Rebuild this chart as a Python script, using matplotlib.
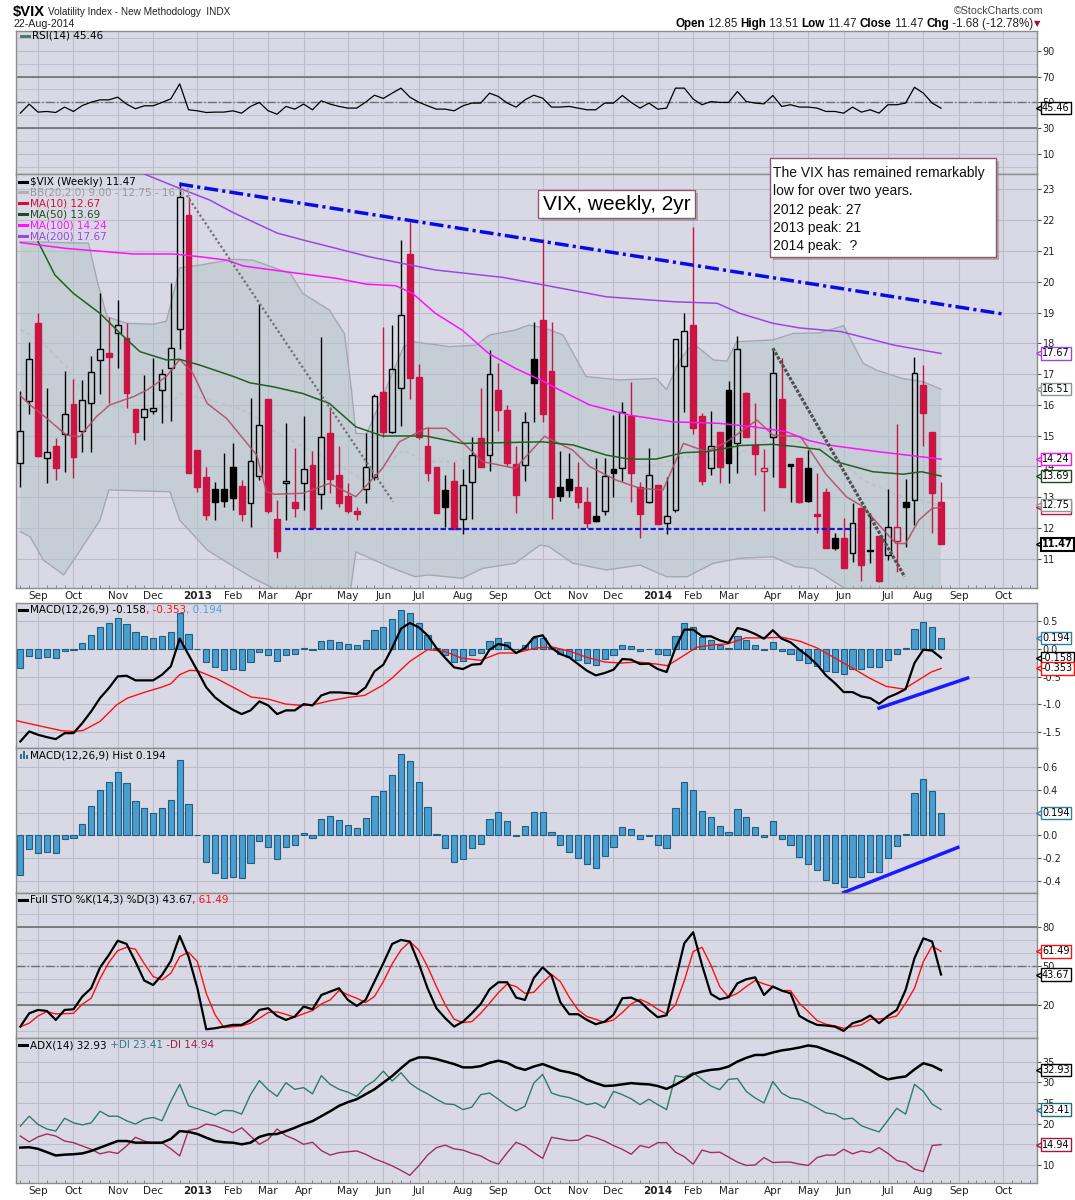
import numpy as np
import pandas as pd
import matplotlib
matplotlib.use("Agg")
import matplotlib.pyplot as plt
import matplotlib.transforms as mtransforms
from matplotlib import font_manager, patheffects
from matplotlib.lines import Line2D
from matplotlib.patches import Rectangle

# weekly $VIX candles, 105 weeks ending 22-Aug-2014
last_week = "2014-08-22"
opens = [14.10, 16.14, 18.65, 14.26, 14.66, 15.04, 16.03, 15.16, 16.05, 17.46,
         17.70, 18.32, 18.16, 15.86, 15.62, 15.80, 16.48, 17.19, 18.45, 22.16,
         14.53, 13.67, 13.27, 13.27, 13.99, 13.37, 12.80, 13.69, 16.18, 12.28,
         13.45, 12.86, 13.45, 14.05, 13.10, 15.08, 13.72, 13.04, 12.55, 13.26,
         13.67, 16.42, 15.13, 16.54, 20.89, 16.89, 14.66, 13.97, 13.24, 13.53,
         12.28, 13.51, 14.93, 14.36, 16.48, 15.85, 14.08, 14.05, 17.48, 18.76,
         17.11, 13.32, 13.61, 13.32, 12.86, 12.39, 12.55, 13.92, 13.94, 15.64,
         13.34, 12.86, 13.40, 12.15, 12.59, 17.27, 18.59, 15.64, 13.94, 15.13,
         16.48, 14.75, 16.40, 14.70, 13.86, 14.95, 16.18, 14.08, 14.29, 13.94,
         12.45, 13.18, 11.69, 11.69, 11.20, 12.64, 11.28, 11.74, 11.13, 11.58,
         12.84, 12.91, 16.63, 15.13, 12.85]
highs = [16.45, 18.03, 18.97, 16.54, 14.91, 17.10, 16.84, 16.81, 17.59, 19.64,
         18.86, 19.40, 18.65, 15.86, 16.97, 17.51, 17.15, 19.95, 23.25, 22.76,
         14.53, 13.99, 13.51, 14.43, 14.77, 13.56, 16.23, 19.28, 16.18, 12.91,
         15.40, 14.59, 15.64, 14.50, 18.21, 15.94, 14.66, 13.47, 12.69, 15.10,
         16.34, 18.54, 18.59, 21.35, 21.95, 17.33, 15.29, 13.97, 13.72, 14.16,
         13.91, 14.97, 16.54, 17.78, 17.35, 15.99, 14.66, 15.78, 18.70, 21.40,
         18.68, 14.51, 14.43, 14.16, 13.34, 14.26, 14.26, 15.67, 16.10, 16.75,
         13.51, 14.59, 13.40, 13.65, 18.13, 19.00, 21.79, 15.75, 15.81, 15.13,
         16.79, 18.24, 16.43, 16.07, 14.56, 17.84, 17.51, 14.08, 14.29, 14.53,
         13.78, 13.29, 11.85, 12.32, 12.80, 12.69, 12.48, 11.74, 13.26, 15.37,
         13.61, 17.56, 17.29, 15.13, 13.51]
lows = [13.34, 15.72, 14.32, 13.47, 13.56, 13.83, 13.64, 14.48, 14.48, 16.37,
        16.05, 17.19, 15.91, 14.73, 14.86, 15.72, 15.40, 15.48, 17.81, 13.78,
        13.18, 12.26, 12.26, 12.69, 12.59, 12.23, 12.05, 13.56, 12.48, 11.02,
        12.26, 12.37, 12.59, 12.01, 12.62, 13.13, 12.69, 12.48, 12.26, 12.82,
        13.56, 14.97, 15.08, 15.32, 16.18, 14.88, 13.54, 12.50, 12.04, 11.96,
        11.81, 12.28, 13.97, 13.86, 15.16, 14.02, 12.50, 13.54, 15.45, 15.45,
        12.29, 12.89, 13.02, 12.64, 11.99, 12.21, 12.42, 13.02, 13.54, 12.86,
        11.67, 12.80, 12.12, 11.80, 12.53, 15.78, 15.05, 13.40, 13.72, 13.47,
        13.47, 13.80, 14.97, 13.72, 12.56, 13.67, 13.34, 12.86, 12.80, 12.86,
        11.85, 11.34, 11.29, 10.69, 10.91, 10.29, 10.86, 10.26, 10.98, 10.58,
        11.37, 12.10, 14.68, 11.85, 11.47]
closes = [15.16, 17.48, 14.34, 14.48, 13.96, 15.72, 14.32, 16.16, 17.06, 17.80,
          17.56, 18.61, 16.40, 15.13, 15.86, 15.89, 16.99, 17.84, 22.74, 13.80,
          13.34, 12.42, 12.86, 12.88, 12.99, 12.45, 14.18, 15.35, 12.57, 11.27,
          13.54, 12.66, 13.91, 12.01, 14.95, 13.58, 12.82, 12.57, 12.45, 13.97,
          16.29, 15.13, 17.15, 18.92, 16.86, 14.95, 13.80, 12.50, 12.69, 11.96,
          13.40, 14.37, 13.97, 16.99, 15.85, 14.12, 13.07, 15.45, 16.72, 15.70,
          13.02, 13.05, 13.24, 12.86, 12.15, 12.24, 13.69, 13.78, 15.76, 13.78,
          12.45, 13.74, 12.12, 12.39, 18.13, 18.41, 15.26, 13.54, 14.66, 13.97,
          14.10, 17.80, 14.97, 14.40, 13.94, 17.02, 13.34, 14.02, 12.86, 12.89,
          12.39, 11.34, 11.36, 10.69, 12.15, 10.80, 11.25, 10.29, 12.04, 12.02,
          12.67, 17.02, 15.75, 13.15, 11.47]

# overlays (week index, value)
ma10_x = [0, 1.1, 3, 5.2, 6.7, 8.6, 10.1, 12.8, 14.3, 16.5, 18, 19.5, 21.1, 23.3, 26.7, 27.8, 28.7,
          31.9, 34.9, 37.9, 40.9, 42.8, 45.8, 48.1, 49.9, 52.2, 55.9, 59.2, 62.4, 64.3, 67.3, 70,
          72.6, 74.9, 77.5, 79.8, 83.2, 85, 88.1, 89.5, 91, 93.3, 95.2, 97, 98.9, 100, 101.5, 103, 104]
ma10_y = [16.3, 16.0, 15.56, 15.02, 14.97, 15.62, 16.0, 16.27, 16.48, 16.92, 17.48, 17.02, 16.05, 15.56,
          14.37, 13.18, 13.1, 13.13, 13.45, 13.02, 13.94, 14.8, 15.24, 15.24, 14.8, 14.16, 13.94, 14.98,
          14.53, 14.0, 13.56, 13.29, 13.24, 14.75, 14.48, 14.8, 15.51, 15.02, 14.97, 14.4, 13.75, 13.02,
          12.69, 12.1, 11.5, 11.5, 12.26, 12.64, 12.67]
ma50_x = [2, 3.9, 6, 9, 11.3, 13.5, 16.5, 18, 20.3, 24.1, 25.9, 28.7, 31.9, 34.9, 37.9, 40.9, 45.8,
          49.9, 53.7, 59, 62.4, 66.2, 68.8, 71.8, 74.9, 77.5, 81.3, 85, 87.5, 90.3, 92.1, 96.3, 99.7,
          101.8, 104]
ma50_y = [21.3, 20.22, 19.62, 18.97, 18.32, 17.73, 17.46, 17.48, 17.29, 16.92, 16.72, 16.58, 16.37,
          16.05, 15.29, 14.99, 14.99, 14.75, 14.77, 14.8, 14.7, 14.37, 14.24, 14.24, 14.45, 14.48, 14.68,
          14.72, 14.65, 14.55, 14.16, 13.83, 13.75, 13.83, 13.69]
ma100_x = [0, 5.2, 12.8, 17.3, 20.3, 23.3, 25.2, 28.5, 35.7, 39.1, 42.4, 44.3, 46.9, 49.9, 52.9, 55.9,
           59.2, 60.2, 64.3, 68.8, 73.7, 79, 82.8, 86.5, 89, 91.2, 96.9, 104]
ma100_y = [21.27, 21.08, 20.9, 20.9, 20.81, 20.7, 20.51, 20.38, 20.11, 19.92, 19.87, 19.62, 18.97,
           18.43, 17.67, 17.19, 16.75, 16.59, 16.0, 15.67, 15.45, 15.4, 15.29, 15.13, 14.85, 14.7,
           14.48, 14.24]
ma200_x = [12, 14.3, 18, 21.4, 24, 29, 32, 39.4, 46.9, 54.5, 59, 66.2, 73.8, 78.7, 81.3, 85, 88, 92.7,
           98.7, 104]
ma200_y = [23.75, 23.46, 23.03, 22.65, 22.25, 21.58, 21.35, 20.81, 20.38, 20.14, 19.9, 19.51, 19.35,
           19.3, 18.97, 18.65, 18.5, 18.38, 17.94, 17.67]
bbu_x = [0, 7.7, 8.7, 9.8, 12, 15, 16.5, 17.3, 18, 20.3, 24.1, 26.3, 28.2, 30.5, 31.9, 34.9, 36.6, 37.4,
         37.9, 39.1, 40.6, 43.3, 44.4, 48.5, 51.5, 53, 55.9, 57.4, 59.2, 61.3, 63.9, 67.7, 71.8, 73,
         74.5, 76, 78.3, 79.8, 80.9, 85, 87.3, 90.3, 93, 95.2, 96.7, 99.6, 102, 104]
bbu_y = [21.3, 21.25, 20.0, 18.86, 18.65, 18.62, 18.72, 19.62, 20.45, 20.54, 20.73, 20.7, 20.5, 20.27,
         19.62, 19.08, 18.32, 16.5, 15.08, 15.05, 16.05, 17.89, 18.05, 17.89, 17.94, 18.27, 18.43, 18.59,
         18.5, 18.27, 16.92, 16.81, 16.86, 16.5, 17.46, 18.0, 17.46, 17.42, 18.05, 18.11, 18.32, 18.34,
         18.57, 17.35, 17.13, 16.86, 16.75, 16.51]
bbm_x = [0, 2.2, 5.2, 7.1, 9.8, 13.5, 16.9, 18, 20.3, 24.1, 26.3, 28.7, 31.9, 35.7, 39.4, 41.6, 43.3,
         45.8, 49.2, 53, 57.4, 59.2, 62.4, 66.2, 71.8, 74.9, 79.8, 85, 88.1, 91.2, 95.2, 98.9, 104]
bbm_y = [18.45, 18.11, 17.24, 16.37, 16.0, 15.83, 15.94, 16.37, 16.24, 15.94, 15.67, 15.15, 14.64,
         14.1, 13.45, 14.16, 14.53, 14.16, 14.16, 14.53, 14.91, 15.02, 14.43, 13.89, 14.05, 14.32,
         14.21, 14.97, 14.8, 14.53, 13.56, 13.07, 12.75]
bbl_x = [0, 1.1, 2.6, 4.9, 6.9, 9, 10, 16.9, 18, 21.1, 24.1, 26.3, 28.2, 31, 34, 37.2, 37.9, 41.6,
         44.6, 46.1, 49.9, 52.2, 55.9, 58.7, 59.7, 62.4, 66.2, 70, 73, 75.3, 78.3, 81.3, 85, 87.5,
         89.6, 92.8, 96, 100, 104]
bbl_y = [11.88, 11.72, 10.96, 10.48, 11.34, 12.26, 13.24, 13.18, 12.26, 11.29, 10.75, 10.37, 10.1,
         9.7, 9.5, 9.8, 11.23, 10.75, 10.42, 10.48, 10.37, 10.69, 10.86, 11.45, 11.4, 10.86, 10.64,
         10.8, 10.42, 10.42, 10.86, 11.02, 11.07, 10.75, 10.69, 10.1, 9.6, 9.2, 9.0]

# hand drawn trend lines (week index, value)
resist_x, resist_y = [17.96, 111.0], [23.17, 18.95]
support_x, support_y = [29.9, 93.9], [11.97, 11.97]
fall1_x, fall1_y = [18.8, 42.1], [22.8, 12.86]
fall2_x, fall2_y = [85.0, 99.9], [17.84, 10.42]
macd_trend_x, macd_trend_y = [97.0, 107.0], [-1.07, -0.526]
hist_trend_x, hist_trend_y = [93.0, 105.9], [-0.505, -0.107]

rsi = [41.6, 48.6, 42.4, 42.9, 42.1, 46.3, 42.9, 47.5, 50.1, 51.9,
       51.9, 54.0, 48.6, 45.0, 47.3, 47.3, 49.9, 52.7, 64.3, 44.2,
       43.4, 42.1, 42.4, 42.4, 43.4, 41.6, 46.8, 49.9, 43.4, 40.8,
       46.8, 44.7, 48.6, 44.2, 51.2, 48.6, 46.8, 45.5, 45.5, 50.1,
       55.5, 53.0, 57.1, 61.0, 54.0, 50.1, 47.3, 44.7, 44.7, 43.4,
       47.3, 49.4, 49.4, 57.1, 54.5, 49.4, 46.3, 51.9, 55.5, 53.2,
       46.3, 46.3, 46.8, 45.5, 44.2, 44.2, 49.4, 49.4, 55.3, 49.9,
       45.5, 49.4, 44.7, 45.5, 61.0, 61.0, 52.5, 48.1, 50.6, 49.9,
       49.9, 58.4, 50.6, 49.4, 48.8, 55.3, 46.8, 48.1, 46.3, 46.3,
       45.5, 42.9, 42.9, 41.6, 46.3, 42.4, 44.2, 41.6, 48.1, 48.1,
       49.4, 61.7, 57.1, 49.4, 45.46]
macd = [-1.675, -1.493, -1.554, -1.596, -1.632, -1.524, -1.524, -1.342, -1.131, -0.889,
        -0.707, -0.496, -0.484, -0.568, -0.568, -0.568, -0.466, -0.314, 0.187, -0.103,
        -0.393, -0.695, -0.877, -0.998, -1.100, -1.179, -1.112, -0.949, -1.022, -1.179,
        -1.112, -1.112, -0.998, -1.022, -0.840, -0.786, -0.786, -0.798, -0.816, -0.695,
        -0.405, -0.284, 0.018, 0.369, 0.472, 0.393, 0.248, 0.018, -0.163, -0.333,
        -0.363, -0.284, -0.272, -0.012, 0.091, 0.060, -0.073, 0.018, 0.212, 0.248,
        0.018, -0.091, -0.151, -0.272, -0.393, -0.478, -0.435, -0.375, -0.181, -0.193,
        -0.272, -0.266, -0.363, -0.417, 0.018, 0.351, 0.351, 0.230, 0.230, 0.157,
        0.109, 0.381, 0.339, 0.272, 0.187, 0.339, 0.187, 0.121, -0.012, -0.133,
        -0.284, -0.478, -0.617, -0.780, -0.780, -0.859, -0.889, -0.992, -0.877, -0.810,
        -0.726, -0.254, -0.012, -0.030, -0.158]
signal_x = [-0.4, 1.6, 4.7, 6.1, 7.1, 9, 10.9, 12.1, 14, 16, 17, 18, 19.1, 20, 22.2, 24.2, 26.1, 28, 30,
            31.9, 33.1, 35, 37, 38.9, 40.9, 42, 44, 46, 47.9, 49.8, 52, 54.1, 56, 58.2, 60.1, 62.1, 64,
            66, 67.9, 69.8, 71.8, 73.1, 74.5, 76.4, 78.4, 79.9, 81.9, 83.8, 86.1, 88.1, 90, 92, 94, 95.9,
            97.8, 99.8, 100.9, 102.9, 104]
signal_y = [-1.30, -1.372, -1.481, -1.493, -1.475, -1.312, -1.01, -0.889, -0.786, -0.689, -0.629,
            -0.466, -0.387, -0.393, -0.538, -0.707, -0.871, -0.907, -0.998, -1.022, -1.01, -0.937,
            -0.877, -0.840, -0.659, -0.526, -0.224, -0.012, -0.042, -0.163, -0.206, -0.073, -0.073,
            0.018, 0.036, -0.042, -0.151, -0.236, -0.254, -0.236, -0.272, -0.302, -0.163, 0.030, 0.079,
            0.091, 0.200, 0.200, 0.212, 0.139, 0.018, -0.163, -0.345, -0.526, -0.677, -0.726, -0.617,
            -0.417, -0.353]
hist = [-0.351, -0.119, -0.158, -0.149, -0.158, -0.033, -0.024, 0.104, 0.256, 0.398,
        0.473, 0.562, 0.461, 0.303, 0.238, 0.193, 0.238, 0.312, 0.660, 0.273,
        0.004, -0.232, -0.330, -0.374, -0.366, -0.374, -0.241, -0.053, -0.107, -0.211,
        -0.107, -0.089, 0.018, -0.024, 0.146, 0.169, 0.134, 0.089, 0.065, 0.155,
        0.348, 0.392, 0.535, 0.713, 0.654, 0.467, 0.250, 0.015, -0.113, -0.238,
        -0.211, -0.113, -0.077, 0.146, 0.205, 0.125, -0.004, 0.080, 0.205, 0.205,
        0.027, -0.089, -0.143, -0.196, -0.256, -0.285, -0.187, -0.107, 0.071, 0.059,
        -0.033, -0.009, -0.089, -0.113, 0.238, 0.473, 0.398, 0.214, 0.160, 0.080,
        0.027, 0.235, 0.160, 0.071, -0.015, 0.125, -0.033, -0.089, -0.193, -0.253,
        -0.306, -0.395, -0.419, -0.455, -0.366, -0.366, -0.321, -0.321, -0.196, -0.098,
        0.015, 0.371, 0.496, 0.392, 0.194]
sto_k = [3.6, 13.8, 16.4, 15.6, 8.7, 16.4, 16.9, 26.7, 33.1, 49.0,
         58.7, 69.7, 67.2, 53.6, 39.0, 35.6, 43.3, 54.1, 73.3, 57.4,
         33.1, 1.5, 2.3, 3.6, 4.9, 4.9, 8.7, 16.4, 17.7, 11.8,
         8.7, 11.3, 19.0, 16.9, 27.9, 30.5, 33.1, 24.1, 19.5, 24.1,
         38.2, 52.3, 67.2, 70.3, 69.0, 52.3, 33.1, 17.7, 10.0, 3.6,
         7.4, 13.8, 21.0, 32.3, 37.7, 37.7, 25.9, 24.1, 41.0, 49.2,
         42.8, 22.3, 13.1, 13.1, 8.7, 5.4, 7.4, 12.6, 25.4, 25.9,
         22.8, 16.4, 10.8, 12.3, 39.5, 67.7, 76.2, 51.0, 28.7, 24.6,
         26.2, 36.9, 40.0, 41.5, 27.9, 34.4, 31.3, 29.2, 11.8, 7.9,
         4.9, 4.4, 3.6, 0.3, 6.2, 8.2, 12.1, 6.2, 11.8, 16.4,
         31.8, 56.2, 71.5, 69.0, 43.67]
sto_d = [3.5, 6.2, 11.8, 15.1, 13.3, 13.5, 13.8, 20.8, 25.4, 40.5,
         53.0, 62.0, 64.6, 63.1, 52.0, 42.1, 39.5, 44.6, 57.4, 60.8,
         53.6, 29.2, 12.6, 2.8, 3.5, 4.1, 6.2, 10.0, 14.4, 14.9,
         13.0, 10.8, 13.5, 15.9, 21.0, 24.1, 31.3, 28.0, 25.4, 22.1,
         26.7, 38.2, 51.8, 62.6, 69.0, 62.6, 49.7, 34.4, 20.3, 9.2,
         6.7, 7.4, 13.8, 21.5, 29.7, 36.4, 34.4, 29.2, 30.0, 37.4,
         43.8, 38.2, 26.2, 16.4, 11.3, 9.2, 6.7, 8.7, 14.4, 21.0,
         24.6, 21.5, 16.9, 13.3, 20.3, 39.0, 61.3, 64.6, 51.0, 34.4,
         26.2, 29.2, 34.4, 39.0, 36.4, 34.4, 31.3, 31.3, 21.5, 15.1,
         8.2, 5.4, 4.1, 2.3, 3.6, 4.9, 9.2, 9.5, 10.0, 11.8,
         21.5, 33.1, 53.6, 65.6, 61.49]
adx = [14.2, 14.3, 13.9, 13.1, 12.3, 12.5, 12.6, 12.8, 13.4, 14.2,
       15.0, 15.8, 15.8, 15.4, 15.4, 15.4, 15.4, 16.3, 18.2, 18.0,
       17.5, 16.6, 15.8, 15.5, 15.4, 15.0, 15.4, 16.8, 17.4, 17.5,
       18.2, 19.0, 19.9, 20.6, 21.8, 23.0, 24.3, 25.2, 25.9, 27.1,
       28.3, 29.9, 31.5, 33.4, 35.2, 36.0, 36.0, 35.6, 35.0, 34.4,
       33.6, 33.6, 33.9, 34.7, 35.2, 34.7, 33.6, 33.0, 33.8, 34.4,
       33.6, 32.8, 32.4, 31.8, 30.6, 29.8, 29.1, 29.2, 29.5, 29.8,
       29.6, 29.5, 29.1, 28.4, 29.4, 30.6, 32.0, 32.6, 33.0, 33.2,
       33.8, 35.0, 35.9, 36.6, 36.6, 37.2, 37.7, 38.0, 38.4, 38.9,
       38.6, 37.8, 37.0, 36.2, 35.2, 34.2, 33.0, 31.6, 30.7, 31.1,
       31.4, 33.1, 34.6, 34.0, 32.93]
plus_di = [19.4, 21.8, 19.8, 18.7, 18.2, 21.3, 20.2, 19.7, 20.2, 23.0,
           21.8, 21.8, 20.7, 19.9, 21.1, 21.5, 20.7, 25.4, 29.5, 24.3,
           23.6, 22.9, 22.1, 23.2, 23.1, 22.3, 27.0, 30.4, 28.2, 26.6,
           29.9, 28.3, 28.7, 27.2, 31.6, 29.5, 28.3, 27.6, 26.6, 29.0,
           30.4, 32.7, 30.3, 32.3, 29.8, 28.3, 27.2, 25.9, 24.8, 24.6,
           23.4, 24.0, 27.0, 27.4, 25.9, 24.3, 23.1, 24.2, 29.8, 31.9,
           27.4, 26.7, 26.3, 25.5, 24.6, 25.0, 23.8, 27.8, 27.0, 26.0,
           24.6, 25.9, 24.6, 23.4, 31.6, 31.2, 32.3, 30.7, 29.1, 28.2,
           30.7, 30.9, 27.8, 26.2, 25.0, 30.2, 27.4, 26.2, 25.9, 25.0,
           23.8, 22.6, 22.3, 21.1, 21.3, 19.5, 18.7, 18.0, 20.8, 23.7,
           22.3, 29.5, 27.8, 24.7, 23.41]
minus_di = [17.0, 15.6, 16.8, 17.5, 17.0, 15.8, 15.4, 14.6, 13.8, 12.7,
            13.2, 12.8, 14.6, 16.7, 15.8, 15.2, 15.4, 13.9, 12.2, 18.4,
            18.8, 19.9, 19.5, 18.7, 17.8, 19.0, 17.0, 15.0, 16.2, 18.7,
            17.1, 16.2, 15.0, 15.5, 13.5, 12.4, 13.0, 13.2, 13.4, 12.6,
            11.5, 10.7, 9.8, 8.7, 7.5, 9.8, 12.4, 14.2, 14.8, 13.9,
            13.6, 12.8, 12.2, 11.0, 10.2, 13.0, 15.5, 14.6, 13.0, 11.6,
            16.7, 16.3, 15.9, 16.0, 17.2, 16.6, 15.8, 14.7, 13.8, 12.6,
            14.7, 14.2, 15.4, 15.4, 13.1, 12.0, 10.2, 13.6, 13.0, 13.1,
            11.9, 10.7, 9.9, 10.0, 11.8, 10.6, 10.7, 10.7, 10.2, 9.9,
            11.8, 12.4, 12.4, 13.8, 12.7, 13.4, 13.0, 14.2, 12.8, 11.1,
            10.6, 9.0, 8.4, 14.7, 14.94]

note_lines = ["The VIX has remained remarkably", "low for over two years.",
              "2012 peak: 27", "2013 peak: 21", "2014 peak:  ?"]
title_box = "VIX, weekly, 2yr"

# ---------------------------------------------------------------
W, H = 1075, 1200
LEFT, RIGHT = 16, 1037
XMIN, XMAX = -0.49, 114.84
BG = "#d9d9e6"
GRID = "#bcbccb"
RED = "#cc1444"
SANS = ["DejaVu Sans"]
names = {f.name for f in font_manager.fontManager.ttflist}
if "Liberation Sans Narrow" in names:
    HEAD, HS = ["Liberation Sans Narrow", "DejaVu Sans"], 1.0
else:
    HEAD, HS = ["Liberation Sans", "DejaVu Sans"], 0.85
ARIAL = ["Liberation Sans", "DejaVu Sans"]

fig = plt.figure(figsize=(W / 100, H / 100), dpi=100)
fig.patch.set_facecolor("white")
rend = fig.canvas.get_renderer()


def fx(x):
    return x / W


def fy(y):
    return 1 - y / H


n = len(closes)
idx = np.arange(n)
weeks = pd.date_range(end=last_week, periods=n, freq="W-FRI")
more = pd.date_range(start=weeks[0], periods=120, freq="W-FRI")
mondays = more - pd.Timedelta(days=4)
month_pos, month_lab = [], []
for i in range(1, len(mondays)):
    if i > XMAX:
        break
    if mondays[i].month != mondays[i - 1].month:
        month_pos.append(i)
        month_lab.append(str(mondays[i].year) if mondays[i].month == 1 else mondays[i].strftime("%b"))


def panel(top, bottom, ylim, yticks, fmt="{:g}", hide=()):
    ax = fig.add_axes([fx(LEFT), fy(bottom), (RIGHT - LEFT) / W, (bottom - top) / H])
    ax.set_facecolor(BG)
    ax.set_xlim(XMIN, XMAX)
    ax.set_ylim(*ylim)
    ax.set_yticks(yticks)
    # labels sitting under a value tag are hidden, as on the original
    ax.set_yticklabels(["" if t in hide else fmt.format(t) for t in yticks])
    ax.yaxis.tick_right()
    ax.tick_params(axis="y", direction="out", length=3, width=0.8, color="#555555",
                   labelsize=7, labelcolor="#222222", pad=1)
    ax.set_xticks(month_pos)
    ax.set_xticklabels([])
    ax.tick_params(axis="x", length=0)
    ax.grid(True, which="major", color=GRID, lw=0.8)
    ax.set_axisbelow(True)
    for s in ax.spines.values():
        s.set_color("#8c8c8c")
        s.set_linewidth(1)
    return ax


def date_labels(ax):
    ax.set_xticklabels(month_lab, fontsize=7.5, color="#222222", family=SANS)
    ax.tick_params(axis="x", which="major", pad=2)
    for t in ax.get_xticklabels():
        if t.get_text().isdigit():
            t.set_fontweight("bold")
    ax.set_xticks(np.arange(0, int(XMAX) + 1), minor=True)
    ax.tick_params(axis="x", which="minor", direction="in", length=2.5, color="#777777")


def tag(ax, y, text, ec, bold=False):
    tr = mtransforms.blended_transform_factory(ax.transAxes, ax.transData)
    ax.plot([1], [y], transform=mtransforms.offset_copy(tr, fig=fig, x=2, y=0, units="dots"),
            marker="<", ms=5, mfc="white", mec=ec, mew=1, clip_on=False, zorder=19)
    ax.annotate(text, xy=(1, y), xycoords=tr, xytext=(5, 0), textcoords="offset pixels",
                ha="left", va="center", fontsize=7, family=SANS,
                fontweight="bold" if bold else "normal", color="black",
                annotation_clip=False, zorder=20,
                bbox=dict(boxstyle="square,pad=0.12", fc="white", ec=ec, lw=1.5 if bold else 1))


def row(x, y, parts, size=7.5, family=SANS, icon=None):
    if icon is not None:
        fig.add_artist(Line2D([fx(x), fx(x + 8)], [fy(y), fy(y)], color=icon, lw=2.2,
                              transform=fig.transFigure))
        x += 11
    for s, col, wt in parts:
        t = fig.text(fx(x), fy(y), s, color=col, fontsize=size, fontweight=wt, family=family,
                     va="center", ha="left", parse_math=False)
        x += t.get_window_extent(renderer=rend).width
    return x


def row_right(xr, y, parts, size, family):
    texts = []
    for s, col, wt in parts:
        texts.append(fig.text(0, fy(y), s, color=col, fontsize=size, fontweight=wt, family=family,
                              va="center", ha="left", parse_math=False))
    widths = [t.get_window_extent(renderer=rend).width for t in texts]
    x = xr - sum(widths)
    for t, w in zip(texts, widths):
        t.set_x(fx(x))
        x += w


# ---- header ----
row(13, 12, [("$VIX", "black", "bold")], size=12.5 * HS, family=HEAD)
row(48, 12, [("Volatility Index - New Methodology  INDX", "#222222", "normal")], size=8.5 * HS, family=HEAD)
row(13, 24, [(weeks[-1].strftime("%d-%b-%Y"), "#222222", "normal")], size=9 * HS, family=HEAD)
row_right(1043, 11, [("\u00a9StockCharts.com", "#444444", "normal")], 9 * HS, HEAD)
chg = closes[-1] - closes[-2]
row_right(1033, 24, [("Open", "black", "bold"), (f" {opens[-1]:.2f} ", "#222222", "normal"),
                     ("High", "black", "bold"), (f" {highs[-1]:.2f} ", "#222222", "normal"),
                     ("Low", "black", "bold"), (f" {lows[-1]:.2f} ", "#222222", "normal"),
                     ("Close", "black", "bold"), (f" {closes[-1]:.2f} ", "#222222", "normal"),
                     ("Chg", "black", "bold"),
                     (f" {chg:.2f} ({chg / closes[-2] * 100:.2f}%)", "#222222", "normal")],
          9.8 * HS, HEAD)
fig.text(fx(1034), fy(24), "\u25bc", color="#a01030", fontsize=6, family=SANS, va="center")

# ---- RSI panel ----
ax_rsi = panel(31, 174, (-5.6, 105.3), [10, 30, 50, 70, 90])
ax_rsi.set_yticks(np.arange(0, 101, 10), minor=True)
ax_rsi.tick_params(axis="y", which="minor", length=0)
ax_rsi.grid(True, which="minor", color=GRID, lw=0.6)
ax_rsi.axhline(70, color="#6e6e6e", lw=1.2)
ax_rsi.axhline(30, color="#6e6e6e", lw=1.2)
ax_rsi.axhline(50, color="#707070", lw=1, ls="-.")
ax_rsi.plot(idx, rsi, color="black", lw=0.9, zorder=3)
row(21, 36, [(f"RSI(14) {rsi[-1]:.2f}", "black", "normal")], icon="#4d7a6a")
tag(ax_rsi, rsi[-1], f"{rsi[-1]:.2f}", "black")

# ---- price panel ----
ax = panel(174, 588, (10.055, 23.497), list(range(11, 24)))
ax.fill(np.r_[bbu_x, bbl_x[::-1]], np.r_[bbu_y, bbl_y[::-1]], color="#b6c5c8", alpha=0.55, lw=0, zorder=1)
ax.plot(bbu_x, bbu_y, color="#a4a8b2", lw=1, zorder=1.2)
ax.plot(bbl_x, bbl_y, color="#a4a8b2", lw=1, zorder=1.2)
ax.plot(bbm_x, bbm_y, color="#c2c2cb", lw=1.5, dashes=(2, 1.5), zorder=1.2)

BW = 0.66
for i in idx:
    o, h, l, c = opens[i], highs[i], lows[i], closes[i]
    prev = closes[i - 1] if i > 0 else o
    col = RED if c < prev else "black"
    top, bot = max(o, c), min(o, c)
    ax.plot([i, i], [top, h], color=col, lw=1, zorder=2, solid_capstyle="butt")
    ax.plot([i, i], [l, bot], color=col, lw=1, zorder=2, solid_capstyle="butt")
    ax.add_patch(Rectangle((i - BW / 2, bot), BW, max(top - bot, 0.02),
                           fc="none" if c > o else col, ec=col, lw=1, zorder=2))

ax.plot(ma10_x, ma10_y, color="#b05068", lw=1.1, alpha=0.9, zorder=3)
ax.plot(ma50_x, ma50_y, color="#226022", lw=1.1, zorder=4)
ax.plot(ma100_x, ma100_y, color="#ff10ff", lw=1.1, zorder=4)
ax.plot(ma200_x, ma200_y, color="#9b45e4", lw=1.1, zorder=4)

ax.plot(resist_x, resist_y, color="#0a0ae6", lw=2.5, dashes=(4, 1.2, 0.9, 1.2), zorder=6)
ax.plot(support_x, support_y, color="#1616e0", lw=1.6, dashes=(2.4, 1.1), zorder=6)
ax.plot(fall1_x, fall1_y, color="#707070", lw=1.6, dashes=(1, 1.1), zorder=6)
ax.plot(fall2_x, fall2_y, color="#505050", lw=2.3, dashes=(1, 0.5), zorder=6)
date_labels(ax)

legend_rows = [
    (181.7, "black", f"$VIX (Weekly) {closes[-1]:.2f}", "black"),
    (192.3, "#b0b0b0", f"BB(20,2.0) {bbl_y[-1]:.2f} - {bbm_y[-1]:.2f} - {bbu_y[-1]:.2f}", "#9a9a9a"),
    (203.3, "#d0103a", f"MA(10) {ma10_y[-1]:.2f}", "#d0103a"),
    (214.3, "#1f4a1f", f"MA(50) {ma50_y[-1]:.2f}", "#1f4a1f"),
    (225.3, "#ff10ff", f"MA(100) {ma100_y[-1]:.2f}", "#ff10ff"),
    (236.3, "#9b45e4", f"MA(200) {ma200_y[-1]:.2f}", "#9b45e4"),
]
for y, ic, s, col in legend_rows:
    row(19, y, [(s, col, "normal")], icon=ic)

tag(ax, ma200_y[-1], f"{ma200_y[-1]:.2f}", "#9b45e4")
tag(ax, bbu_y[-1], f"{bbu_y[-1]:.2f}", "#8a9898")
tag(ax, ma100_y[-1], f"{ma100_y[-1]:.2f}", "#ff10ff")
tag(ax, ma50_y[-1], f"{ma50_y[-1]:.2f}", "#1f4a1f")
tag(ax, ma10_y[-1], f"{ma10_y[-1]:.2f}", "#d0103a")
tag(ax, bbm_y[-1], f"{bbm_y[-1]:.2f}", "#8a9898")
tag(ax, closes[-1], f"{closes[-1]:.2f}", "black", bold=True)

# text boxes drawn on the chart
t = fig.text(fx(543), fy(204), title_box, fontsize=15, family=ARIAL, va="center", ha="left",
             bbox=dict(boxstyle="square,pad=0.22", fc="white", ec="#8e5a6a", lw=1), zorder=30)
t.get_bbox_patch().set_path_effects([patheffects.withSimplePatchShadow(offset=(2, -2),
                                     shadow_rgbFace="#8a8a8a", alpha=0.6)])
fig.add_artist(Rectangle((fx(770), fy(257)), (996 - 770) / W, (257 - 158) / H, transform=fig.transFigure,
                         fc="white", ec="#8e5a6a", lw=1, zorder=30,
                         path_effects=[patheffects.withSimplePatchShadow(offset=(2, -2),
                                                                         shadow_rgbFace="#8a8a8a", alpha=0.6)]))
for k, s in enumerate(note_lines):
    fig.text(fx(773), fy(173.3 + 18.2 * k), s, fontsize=10, family=ARIAL, va="center", ha="left",
             color="#111111", zorder=31)

# ---- MACD panel ----
ax_m = panel(603, 748, (-1.793, 0.833), [-1.5, -1.0, -0.5, 0.0, 0.5], fmt="{:.1f}")
ax_m.bar(idx, hist, width=0.7, color="#4a9dce", edgecolor="#1f5f80", lw=0.8, zorder=2)
ax_m.plot(signal_x, signal_y, color="#ff1010", lw=1, zorder=3)
ax_m.plot(idx, macd, color="black", lw=1.6, zorder=4)
ax_m.plot(macd_trend_x, macd_trend_y, color="#1a1aff", lw=2.5, zorder=5, clip_on=False)
row(19, 610, [(f"MACD(12,26,9) {macd[-1]:.3f}", "black", "normal"),
              (f", {signal_y[-1]:.3f}", "#ff1010", "normal"),
              (f", {hist[-1]:.3f}", "#4aa3df", "normal")], icon="black")
tag(ax_m, hist[-1], f"{hist[-1]:.3f}", "#2c7fa8")
tag(ax_m, macd[-1], f"{macd[-1]:.3f}", "black")
tag(ax_m, signal_y[-1], f"{signal_y[-1]:.3f}", "#ff1010")

# ---- MACD histogram panel ----
ax_h = panel(748, 893, (-0.509, 0.770), [-0.4, -0.2, 0.0, 0.2, 0.4, 0.6], fmt="{:.1f}", hide=(0.2,))
ax_h.bar(idx, hist, width=0.7, color="#4a9dce", edgecolor="#1f5f80", lw=0.8, zorder=2)
ax_h.plot(hist_trend_x, hist_trend_y, color="#1a1aff", lw=2.5, zorder=5)
for k, hgt in enumerate([5, 8, 4]):
    fig.add_artist(Rectangle((fx(20 + 3 * k), fy(759)), 2 / W, hgt / H, transform=fig.transFigure,
                             fc="#2c6f90", ec="none"))
row(30, 755, [(f"MACD(12,26,9) Hist {hist[-1]:.3f}", "black", "normal")])
tag(ax_h, hist[-1], f"{hist[-1]:.3f}", "#2c7fa8")

# ---- Full stochastics panel ----
ax_s = panel(893, 1038, (-5.2, 106.4), [20, 50, 80])
ax_s.set_yticks(np.arange(0, 101, 10), minor=True)
ax_s.tick_params(axis="y", which="minor", length=0)
ax_s.grid(True, which="minor", color=GRID, lw=0.6)
ax_s.axhline(80, color="#6e6e6e", lw=1.2)
ax_s.axhline(20, color="#6e6e6e", lw=1.2)
ax_s.axhline(50, color="#707070", lw=1, ls="-.")
ax_s.plot(idx, sto_d, color="#ff1010", lw=1, zorder=3)
ax_s.plot(idx, sto_k, color="black", lw=1.6, zorder=4)
row(19, 900, [(f"Full STO %K(14,3) %D(3) {sto_k[-1]:.2f}", "black", "normal"),
              (f", {sto_d[-1]:.2f}", "#ff1010", "normal")], icon="black")
tag(ax_s, sto_d[-1], f"{sto_d[-1]:.2f}", "#ff1010")
tag(ax_s, sto_k[-1], f"{sto_k[-1]:.2f}", "black")

# ---- ADX panel ----
ax_a = panel(1038, 1183, (5.65, 40.7), [10, 15, 20, 25, 30, 35], hide=(15,))
ax_a.plot(idx, minus_di, color="#a0305a", lw=1, zorder=3)
ax_a.plot(idx, plus_di, color="#2e7d64", lw=1, zorder=3)
ax_a.plot(idx, adx, color="black", lw=1.8, zorder=4)
date_labels(ax_a)
row(19, 1045, [(f"ADX(14) {adx[-1]:.2f}", "black", "normal"),
               (f" +DI {plus_di[-1]:.2f}", "#2a7a8c", "normal"),
               (f" -DI {minus_di[-1]:.2f}", "#a0204a", "normal")], icon="black")
tag(ax_a, adx[-1], f"{adx[-1]:.2f}", "black")
tag(ax_a, plus_di[-1], f"{plus_di[-1]:.2f}", "#1f6f80")
tag(ax_a, minus_di[-1], f"{minus_di[-1]:.2f}", "#a01848")

fig.savefig("out.png", dpi=100, facecolor="white")
